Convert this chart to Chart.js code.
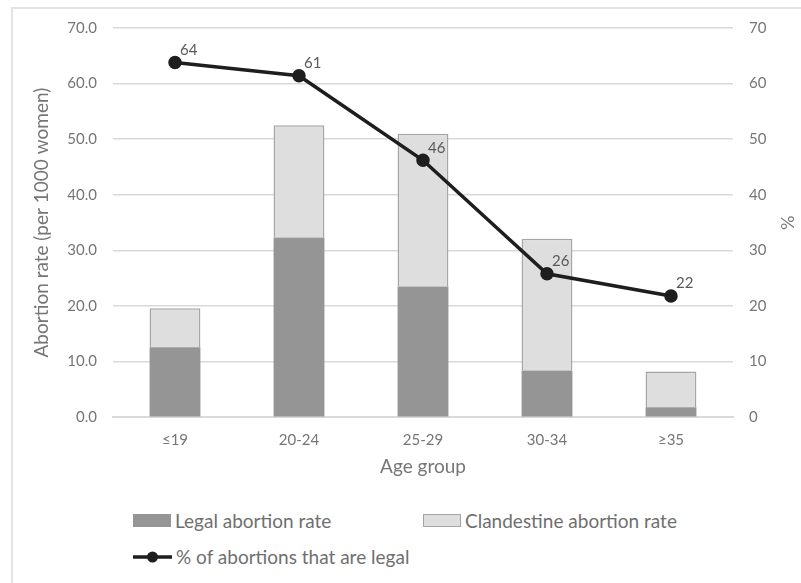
<!DOCTYPE html>
<html>
<head>
<meta charset="utf-8">
<script src="https://cdn.jsdelivr.net/npm/chart.js@4.4.1/dist/chart.umd.min.js"></script>
<style>
  body { margin: 0; background: #fff; font-family: Lato, "Open Sans", sans-serif; overflow: hidden; }
  #frame { position: absolute; left: 11px; top: 7px; width: 820px; height: 620px; border: 2px solid #e3e3e3; box-sizing: border-box; }
  #wrap { position: absolute; left: 0; top: 0; width: 801px; height: 490px; }
  .legend { position: absolute; color: #6f6f6f; font-size: 19px; display: flex; align-items: center; white-space: nowrap; }
  .box { width: 38px; height: 13px; box-sizing: border-box; margin-right: 4px; }
</style>
</head>
<body>
<div id="frame"></div>
<div id="wrap"><canvas id="chart"></canvas></div>

<div class="legend" style="left:133px; top:509px;"><span class="box" style="background:#959595;"></span>Legal abortion rate</div>
<div class="legend" style="left:423px; top:509px;"><span class="box" style="background:#dedede; border:1px solid #a5a5a5;"></span>Clandestine abortion rate</div>
<div class="legend" style="left:133px; top:545px;">
  <svg width="40" height="14" style="margin-right:3px"><line x1="0" y1="7" x2="39" y2="7" stroke="#1e1e1e" stroke-width="3.5"/><circle cx="19.5" cy="7" r="5.5" fill="#1e1e1e"/></svg>% of abortions that are legal
</div>

<script>
// --- DATA ---
const ageGroups = ['≤19', '20-24', '25-29', '30-34', '≥35'];
const legalRate = [12.6, 32.3, 23.5, 8.4, 1.8];
const clandestineRate = [7.0, 20.2, 27.5, 23.7, 6.4];   // stacked on top of legal
const pctLegal = [63.8, 61.4, 46.2, 25.8, 21.8];
const pctLabels = ['64', '61', '46', '26', '22'];

const textGray = '#767676';
const gridGray = '#d9d9d9';

// draws the little numbers beside the line points
const pointLabels = {
    id: 'pointLabels',
    afterDatasetsDraw(chart) {
        const meta = chart.getDatasetMeta(2);
        const ctx = chart.ctx;
        ctx.save();
        ctx.font = '15px Lato, "Open Sans", sans-serif';
        ctx.fillStyle = '#595959';
        ctx.textAlign = 'left';
        ctx.textBaseline = 'bottom';
        meta.data.forEach((pt, i) => {
            ctx.fillText(pctLabels[i], pt.x + 5, pt.y - 5);
        });
        ctx.restore();
    }
};

const ctx = document.getElementById('chart').getContext('2d');
const chart = new Chart(ctx, {
    data: {
        labels: ageGroups,
        datasets: [
            {
                type: 'bar',
                label: 'Legal abortion rate',
                data: legalRate,
                yAxisID: 'y',
                backgroundColor: '#959595',
                borderWidth: 0,
                stack: 's',
                order: 1
            },
            {
                type: 'bar',
                label: 'Clandestine abortion rate',
                data: clandestineRate,
                yAxisID: 'y',
                backgroundColor: '#dedede',
                borderColor: '#a5a5a5',
                borderWidth: 1.5,
                stack: 's',
                order: 2
            },
            {
                type: 'line',
                label: '% of abortions that are legal',
                data: pctLegal,
                yAxisID: 'y1',
                borderColor: '#1e1e1e',
                backgroundColor: '#1e1e1e',
                borderWidth: 3.5,
                pointRadius: 5,
                pointHoverRadius: 5,
                tension: 0,
                order: 0
            }
        ]
    },
    options: {
        responsive: true,
        maintainAspectRatio: false,
        animation: false,
        layout: { padding: { left: 12, right: 0, top: 28, bottom: 8 } },
        datasets: { bar: { barPercentage: 0.41, categoryPercentage: 1.0 } },
        plugins: {
            legend: { display: false },
            tooltip: { enabled: false }
        },
        scales: {
            x: {
                stacked: true,
                grid: { display: false },
                border: { color: gridGray, width: 2 },
                ticks: { color: textGray, font: { size: 15, family: 'Lato' }, padding: 6 },
                title: { display: true, text: 'Age group', color: textGray, font: { size: 19, family: 'Lato' }, padding: { top: 0 } }
            },
            y: {
                stacked: true,
                min: 0, max: 70,
                afterFit: s => { s.width = 101; },
                ticks: { stepSize: 10, color: textGray, font: { size: 15, family: 'Lato' }, padding: 16,
                         callback: v => v.toFixed(1) },
                grid: { color: gridGray, lineWidth: 1.5, drawTicks: false },
                border: { display: false },
                title: { display: true, text: 'Abortion rate (per 1000 women)', color: textGray, font: { size: 19, family: 'Lato' }, padding: { top: 18, bottom: 0 } }
            },
            y1: {
                position: 'right',
                min: 0, max: 70,
                afterFit: s => { s.width = 68; },
                ticks: { stepSize: 10, color: textGray, font: { size: 15, family: 'Lato' }, padding: 16 },
                grid: { display: false, drawTicks: false },
                border: { display: false },
                title: { display: true, text: '%', color: textGray, font: { size: 18, family: 'Lato' }, padding: { top: 3, bottom: 0 } }
            }
        }
    },
    plugins: [pointLabels]
});
</script>
</body>
</html>
